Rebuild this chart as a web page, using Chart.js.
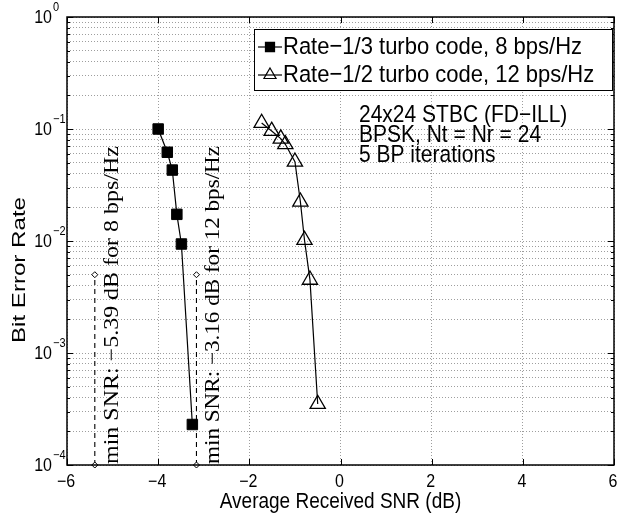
<!DOCTYPE html>
<html>
<head>
<meta charset="utf-8">
<title>BER vs SNR</title>
<script src="https://cdn.jsdelivr.net/npm/chart.js@4.4.1/dist/chart.umd.min.js"></script>
<style>
  html, body { margin: 0; padding: 0; background: #fff; }
  canvas { display: block; }
</style>
</head>
<body>
<canvas id="chart" width="617" height="516"></canvas>
<script>
// values
const snrRate13 = [-4.0, -3.8, -3.69, -3.59, -3.49, -3.25]
const berRate13 = [0.1, 0.062, 0.043, 0.0173, 0.0094, 0.00023]
const snrRate12 = [-1.73, -1.51, -1.31, -1.21, -1.0, -0.88, -0.79, -0.67, -0.5]
const berRate12 = [0.113, 0.096, 0.082, 0.073, 0.051, 0.0224, 0.0102, 0.0045, 0.00035]
const minSnr = [-5.39, -3.16]
const minSnrBer = [1e-4, 5e-3]
const minSnrLabels = ["min SNR: \u22125.39 dB for 8 bps/Hz", "min SNR: \u22123.16 dB for 12 bps/Hz"]
const seriesNames = ["Rate\u22121/3 turbo code, 8 bps/Hz", "Rate\u22121/2 turbo code, 12 bps/Hz"]
const noteLines = ["24x24 STBC (FD\u2212ILL)", "BPSK, Nt = Nr = 24", "5 BP iterations"]
const xTicks = [-6, -4, -2, 0, 2, 4, 6]
const yDecades = [-4, -3, -2, -1, 0]

const SANS = "'Liberation Sans', Arial, sans-serif"
const SERIF = "'Liberation Serif', 'Times New Roman', serif"
const STRETCH = 1.12 // the source image is a bit taller than it should be

const points = (xs, ys) => xs.map((x, i) => ({ x, y: ys[i] }))
const isDecade = v => Math.abs(Math.log10(v) - Math.round(Math.log10(v))) < 1e-9
const minus = v => v < 0 ? "\u2212" + (-v) : String(v)

const datasets = [
  { label: seriesNames[0], data: points(snrRate13, berRate13), showLine: true,
    borderColor: "#000", borderWidth: 1.2, backgroundColor: "#000",
    pointStyle: "rect", pointRadius: 7.4, pointBorderWidth: 1 },
  { label: seriesNames[1], data: points(snrRate12, berRate12), showLine: true,
    borderColor: "#000", borderWidth: 1.2, backgroundColor: "rgba(0,0,0,0)",
    pointStyle: "triangle", pointRadius: 8.8, pointBorderWidth: 1.3 },
  ...minSnr.map(s => ({
    label: "min SNR", data: points([s, s], minSnrBer), showLine: true, clip: false,
    borderColor: "#000", borderWidth: 1.1, borderDash: [5, 4], backgroundColor: "#fff",
    pointStyle: "rectRot", pointRadius: 3, pointBorderWidth: 1
  }))
]

// horizontal text, stretched vertically
function htext(ctx, str, x, y, font, align) {
  ctx.save()
  ctx.translate(x, y)
  ctx.scale(1, STRETCH)
  ctx.font = font
  ctx.textAlign = align || "left"
  ctx.textBaseline = "middle"
  ctx.fillText(str, 0, 0)
  ctx.restore()
}

// rotated text, stretched along its length
function vtext(ctx, str, x, y, font, len, align) {
  ctx.save()
  ctx.translate(x, y)
  ctx.rotate(-Math.PI / 2)
  ctx.font = font
  ctx.textAlign = align || "left"
  ctx.textBaseline = "alphabetic"
  ctx.scale(len / ctx.measureText(str).width, 1)
  ctx.fillText(str, 0, 0)
  ctx.restore()
}

const frame = {
  id: "frame",
  afterDatasetsDraw(chart) {
    const { ctx, chartArea: a, scales: { x, y } } = chart
    ctx.save()
    ctx.strokeStyle = "#000"
    ctx.fillStyle = "#000"

    // ticks inside the box
    ctx.lineWidth = 1
    ctx.beginPath()
    x.ticks.forEach(t => {
      const px = Math.round(x.getPixelForValue(t.value)) + 0.5
      ctx.moveTo(px, a.bottom); ctx.lineTo(px, a.bottom - 6)
      ctx.moveTo(px, a.top); ctx.lineTo(px, a.top + 6)
    })
    y.ticks.forEach(t => {
      const py = Math.round(y.getPixelForValue(t.value)) + 0.5
      const len = isDecade(t.value) ? 6 : 3
      ctx.moveTo(a.left, py); ctx.lineTo(a.left + len, py)
      ctx.moveTo(a.right, py); ctx.lineTo(a.right - len, py)
    })
    ctx.stroke()
    ctx.lineWidth = 1.5
    ctx.strokeRect(a.left, a.top, a.right - a.left, a.bottom - a.top)

    // tick labels
    x.ticks.forEach(t => htext(ctx, minus(t.value), x.getPixelForValue(t.value) - 1, a.bottom + 17, `16px ${SANS}`, "center"))
    yDecades.forEach(d => {
      const py = y.getPixelForValue(10 ** d)
      htext(ctx, "10", a.left - 15, py + 1, `16px ${SANS}`, "right")
      htext(ctx, minus(d), a.left - 14, py - 9, `11px ${SANS}`)
    })

    // axis titles
    htext(ctx, "Average Received SNR (dB)", (a.left + a.right) / 2, 502, `19px ${SANS}`, "center")
    vtext(ctx, "Bit Error Rate", 25, 270, `19px ${SANS}`, 146, "center")

    // min SNR labels
    minSnr.forEach((s, i) => {
      const px = x.getPixelForValue(s)
      vtext(ctx, minSnrLabels[i], px + 23, a.bottom - 1, `21px ${SERIF}`, 318)
    })

    // notes
    noteLines.forEach((t, i) => htext(ctx, t, 359, 116 + i * 20, `21px ${SANS}`))

    // legend box
    ctx.fillStyle = "#fff"
    ctx.fillRect(254, 29, 358, 61)
    ctx.lineWidth = 1
    ctx.strokeRect(254.5, 29.5, 358, 61)
    chart.data.datasets.slice(0, 2).forEach((ds, i) => {
      const cy = 47 + i * 28
      ctx.strokeStyle = "#000"
      ctx.lineWidth = 1.2
      ctx.beginPath(); ctx.moveTo(258, cy); ctx.lineTo(282, cy); ctx.stroke()
      ctx.fillStyle = ds.backgroundColor
      Chart.helpers.drawPoint(ctx, { pointStyle: ds.pointStyle, radius: i ? 7 : 6.4, rotation: 0, borderWidth: 1 }, 270, cy)
      ctx.fillStyle = "#000"
      htext(ctx, ds.label, 283, cy, `22px ${SANS}`)
    })
    ctx.restore()
  }
}

new Chart(document.getElementById("chart"), {
  type: "scatter",
  data: { datasets },
  options: {
    responsive: false,
    animation: false,
    devicePixelRatio: 1,
    layout: { autoPadding: false, padding: { top: 17, right: 3, left: 0, bottom: 0 } },
    plugins: { legend: { display: false }, tooltip: { enabled: false } },
    scales: {
      x: {
        type: "linear", min: -6, max: 6,
        afterBuildTicks: s => { s.ticks = xTicks.map(value => ({ value })) },
        afterFit: s => { s.height = 51 },
        grid: { color: "rgba(0,0,0,0.38)", lineWidth: 1, drawTicks: false },
        border: { display: false, dash: [1, 2] },
        ticks: { display: false, autoSkip: false }
      },
      y: {
        type: "logarithmic", min: 1e-4, max: 1,
        afterBuildTicks: s => {
          s.ticks = yDecades.slice(0, -1)
            .flatMap(d => [1, 2, 3, 4, 5, 6, 7, 8, 9].map(m => ({ value: m * 10 ** d })))
            .concat([{ value: 1 }])
        },
        afterFit: s => { s.width = 67 },
        grid: { color: "rgba(0,0,0,0.38)", lineWidth: 1, drawTicks: false },
        border: { display: false, dash: [1, 2] },
        ticks: { display: false, autoSkip: false }
      }
    }
  },
  plugins: [frame]
})
</script>
</body>
</html>
